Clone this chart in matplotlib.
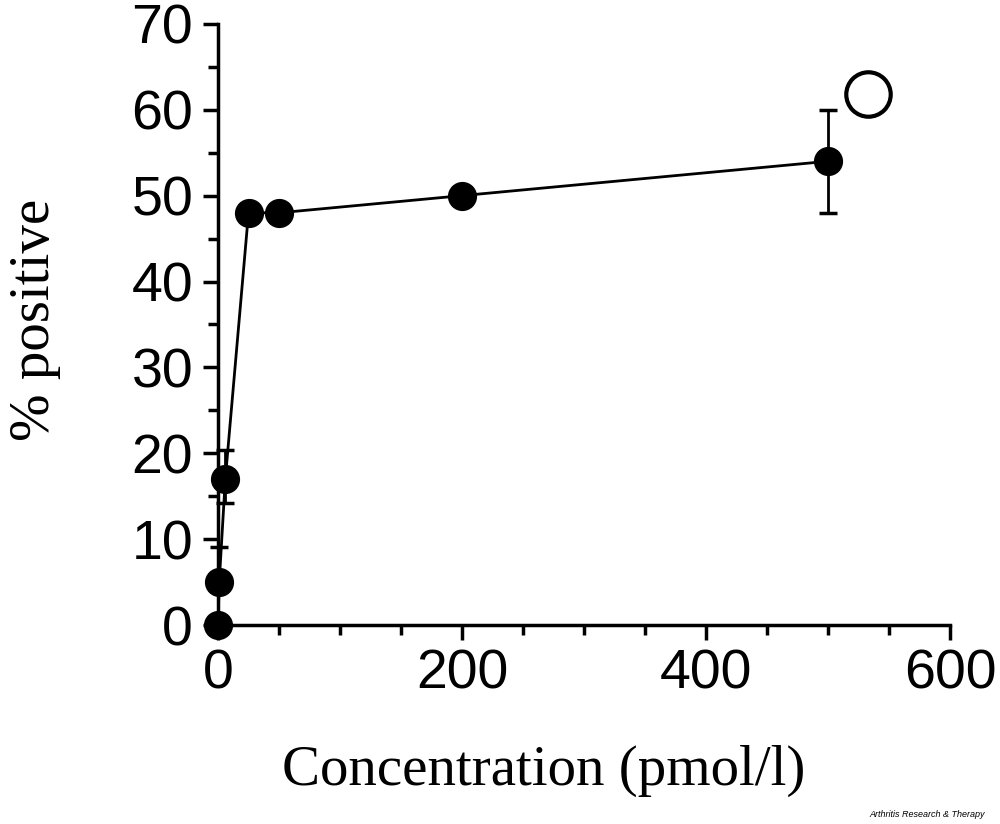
import matplotlib.pyplot as plt
from matplotlib.ticker import MultipleLocator

# dose-response data
conc = [0, 1, 6, 25, 50, 200, 500]
pct = [0, 5, 17, 48, 48, 50, 54]
err_lo = [0, 0, 2.8, 0, 0, 0, 6]
err_hi = [0, 4.1, 3.4, 0, 0, 0, 6]

# open-circle symbol in the upper right
open_x = [533]
open_y = [61.8]

fig = plt.figure(figsize=(10, 8.24), dpi=100)
ax = fig.add_axes([0.218, 0.2415, 0.732, 0.7295])

ax.errorbar(conc, pct, yerr=[err_lo, err_hi], fmt='none', ecolor='black',
            elinewidth=2, capsize=6.5, capthick=2.5, clip_on=False, zorder=2)
ax.plot(conc, pct, color='black', lw=2, marker='o', ms=20,
        clip_on=False, zorder=3)
ax.plot(open_x, open_y, marker='o', ms=32, mfc='white', mec='black',
        mew=3, ls='none', clip_on=False)

ax.set_xlim(0, 600)
ax.set_ylim(0, 70)
ax.xaxis.set_major_locator(MultipleLocator(200))
ax.xaxis.set_minor_locator(MultipleLocator(50))
ax.yaxis.set_major_locator(MultipleLocator(10))
ax.yaxis.set_minor_locator(MultipleLocator(5))

for s in ['top', 'right']:
    ax.spines[s].set_visible(False)
for s in ['left', 'bottom']:
    ax.spines[s].set_linewidth(2.5)

ax.tick_params(which='major', length=11, width=2.5, direction='out')
ax.tick_params(which='minor', length=7, width=2.5, direction='out')
ax.tick_params(axis='x', which='major', pad=6)
ax.tick_params(axis='y', which='major', pad=7)
for lab in ax.get_xticklabels() + ax.get_yticklabels():
    lab.set_fontfamily('Liberation Sans')
    lab.set_fontsize(40)

ax.set_xlabel('Concentration (pmol/l)', family='Liberation Serif',
              fontsize=41)
ax.xaxis.set_label_coords(0.445, -0.2)
ax.set_ylabel('% positive', family='Liberation Serif', fontsize=41)
ax.yaxis.set_label_coords(-0.214, 0.507)

fig.text(0.985, 0.006, 'Arthritis Research & Therapy', ha='right',
         va='bottom', fontsize=6.5, style='italic', family='Liberation Sans')

fig.savefig('out.png', dpi=100)
